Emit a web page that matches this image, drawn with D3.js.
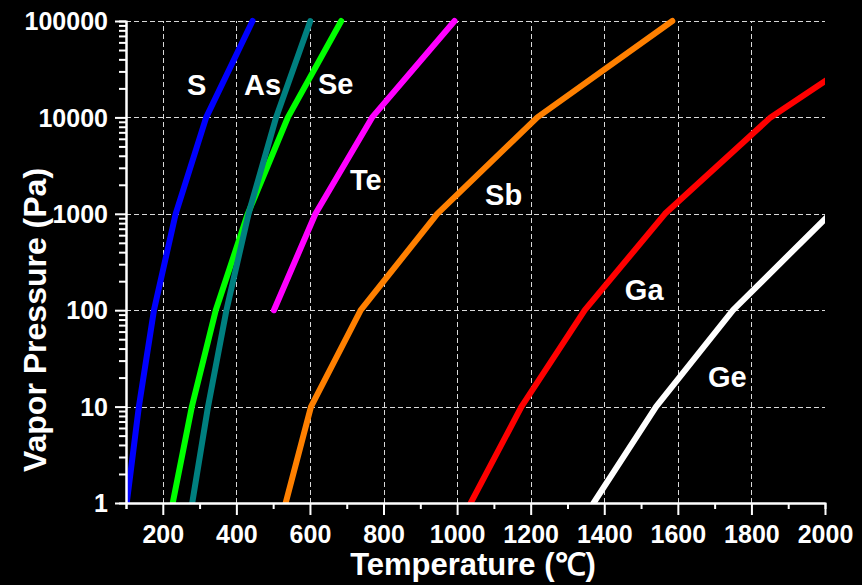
<!DOCTYPE html>
<html>
<head>
<meta charset="utf-8">
<script src="https://cdn.jsdelivr.net/npm/d3@7/dist/d3.min.js"></script>
<style>
  html, body { margin: 0; padding: 0; background: #000; }
  svg { display: block; }
  text { font-family: "Liberation Sans", Arial, sans-serif; font-weight: bold; fill: #fff; }
</style>
</head>
<body>
<svg id="chart" width="862" height="585"></svg>
<script>
// Vapor pressure levels (Pa) and the temperature (°C) at which each element reaches them
const pressures = [1, 10, 100, 1000, 10000, 100000];
const tempS  = [102, 135, 176, 235, 318, 444];
const tempSe = [227, 279, 344, 431, 540, 685];
const tempAs = [280, 323, 373, 433, 508, 601];
const tempTe = [null, null, 502, 615, 769, 993];
const tempSb = [534, 603, 738, 946, 1218, 1585];
const tempGa = [1037, 1175, 1347, 1565, 1852, 2245];
const tempGe = [1371, 1541, 1750, 2014, 2360, 2831];

const elements = ["S", "Se", "As", "Te", "Sb", "Ga", "Ge"];
const elementTemps = [tempS, tempSe, tempAs, tempTe, tempSb, tempGa, tempGe];
const elementColors = ["#0000ff", "#00ff00", "#008080", "#ff00ff", "#ff8000", "#ff0000", "#ffffff"];

const xTickValues = [200, 400, 600, 800, 1000, 1200, 1400, 1600, 1800, 2000];
const xMinorTicks = [100, 300, 500, 700, 900, 1100, 1300, 1500, 1700, 1900];
const yTickValues = [1, 10, 100, 1000, 10000, 100000];
const yTickLabels = ["1", "10", "100", "1000", "10000", "100000"];

// Element label anchors in data space (temperature °C, pressure Pa), same order as elements
const labelTemps = [266, 622, 421, 709, 1076, 1456, 1682];
const labelPress = [17000, 17500, 17000, 1770, 1230, 128, 16];

const svg = d3.select("#chart");
const plotLeft = 126, plotRight = 825, plotTop = 21, plotBottom = 503;

const x = d3.scaleLinear().domain([100, 2000]).range([plotLeft, plotRight]);
const y = d3.scaleLog().domain([1, 100000]).range([plotBottom, plotTop]);

// Dashed grid
const grid = svg.append("g").attr("stroke", "#d8d8d8").attr("stroke-width", 1)
  .attr("stroke-dasharray", "5,3").attr("fill", "none");
grid.selectAll("line.v").data(xTickValues.filter(v => v < 2000)).join("line")
  .attr("class", "v")
  .attr("x1", d => Math.round(x(d)) + 0.5).attr("x2", d => Math.round(x(d)) + 0.5)
  .attr("y1", plotBottom).attr("y2", plotTop);
grid.selectAll("line.h").data(yTickValues.filter(v => v > 1)).join("line")
  .attr("class", "h")
  .attr("y1", d => Math.round(y(d)) + 0.5).attr("y2", d => Math.round(y(d)) + 0.5)
  .attr("x1", plotLeft).attr("x2", plotRight);

// Curves, clipped to the plot frame
svg.append("clipPath").attr("id", "plot-clip")
  .append("rect").attr("x", plotLeft).attr("y", 0)
  .attr("width", plotRight - plotLeft).attr("height", plotBottom);

const line = d3.line()
  .defined(d => d[0] != null)
  .x(d => x(d[0]))
  .y(d => y(d[1]));

const curves = svg.append("g").attr("clip-path", "url(#plot-clip)");
elements.forEach((name, i) => {
  const pts = elementTemps[i].map((t, k) => [t, pressures[k]]);
  curves.append("path")
    .attr("d", line(pts))
    .attr("fill", "none")
    .attr("stroke", elementColors[i])
    .attr("stroke-width", 6)
    .attr("stroke-linejoin", "round")
    .attr("stroke-linecap", "round");
});

// Element labels
svg.append("g").selectAll("text").data(elements).join("text")
  .attr("x", (d, i) => x(labelTemps[i]))
  .attr("y", (d, i) => y(labelPress[i]))
  .attr("font-size", 29)
  .text(d => d);

// Axes
function styleAxis(g) {
  g.select(".domain").attr("stroke", "#fff").attr("stroke-width", 2);
  g.selectAll(".tick line").attr("stroke", "#fff").attr("stroke-width", 2);
}

// y axis: minor log ticks, then major ticks with labels
const yMinor = [];
for (let e = 0; e < 5; e++) for (let m = 2; m <= 9; m++) yMinor.push(m * Math.pow(10, e));
svg.append("g").attr("transform", `translate(${plotLeft},0)`)
  .call(d3.axisLeft(y).tickValues(yMinor).tickSize(7).tickFormat(""))
  .call(styleAxis);
svg.append("g").attr("transform", `translate(${plotLeft},0)`)
  .call(d3.axisLeft(y).tickValues(yTickValues).tickSize(11).tickSizeOuter(0)
    .tickFormat((d, i) => yTickLabels[i]))
  .call(styleAxis)
  .call(g => g.selectAll(".tick text")
    .attr("x", -18).attr("dy", "0.35em")
    .attr("fill", "#fff").attr("font-size", 25)
    .attr("font-family", "Liberation Sans, Arial, sans-serif").attr("font-weight", "bold"));

// x axis
svg.append("g").attr("transform", `translate(0,${plotBottom})`)
  .call(d3.axisBottom(x).tickValues(xMinorTicks).tickSize(6).tickFormat(""))
  .call(styleAxis);
svg.append("g").attr("transform", `translate(0,${plotBottom})`)
  .call(d3.axisBottom(x).tickValues(xTickValues).tickSize(12).tickSizeOuter(0)
    .tickFormat(d3.format("d")))
  .call(styleAxis)
  .call(g => g.selectAll(".tick text")
    .attr("y", 40).attr("dy", 0)
    .attr("fill", "#fff").attr("font-size", 25)
    .attr("font-family", "Liberation Sans, Arial, sans-serif").attr("font-weight", "bold"));

// Axis titles
svg.append("text")
  .attr("x", 473).attr("y", 575)
  .attr("text-anchor", "middle")
  .attr("font-size", 31)
  .text("Temperature (℃)");

svg.append("text")
  .attr("transform", "translate(46,320) rotate(-90)")
  .attr("text-anchor", "middle")
  .attr("font-size", 32)
  .text("Vapor Pressure (Pa)");
</script>
</body>
</html>
